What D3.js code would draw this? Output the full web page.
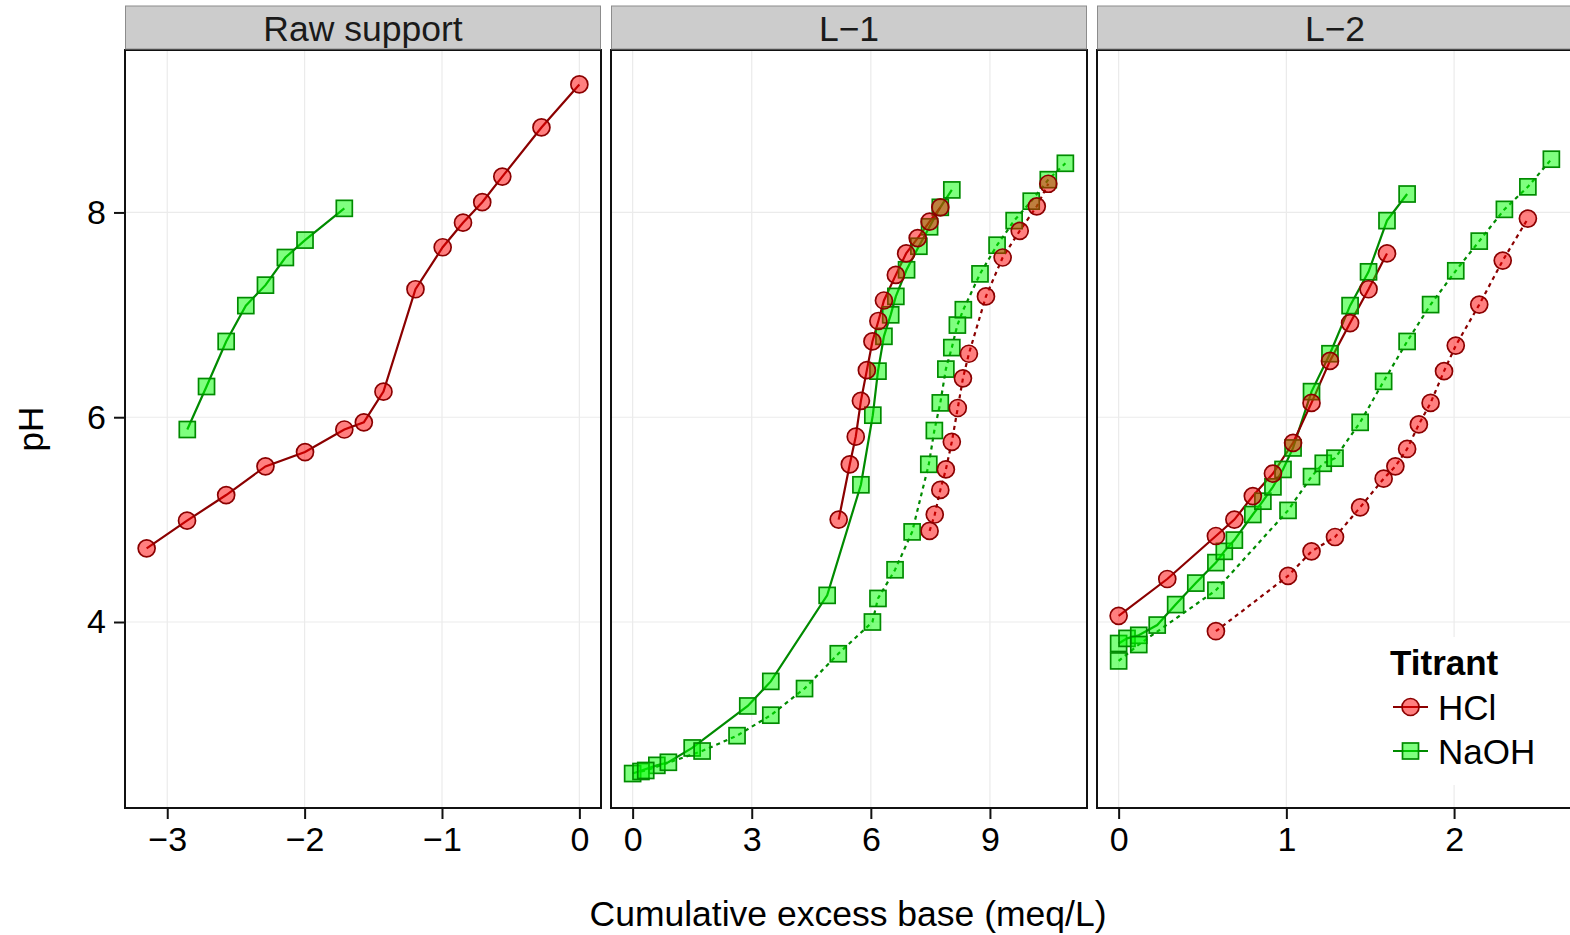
<!DOCTYPE html>
<html>
<head>
<meta charset="utf-8">
<script src="https://cdn.jsdelivr.net/npm/d3@7"></script>
<style>
  body { margin: 0; background: #fff; }
  svg { display: block; font-family: "Liberation Sans", Arial, sans-serif; }
</style>
</head>
<body>
<svg id="chart" width="1570" height="935"></svg>
<script>
// panels (facets) and their x ticks
var panelNames = ["Raw support", "L\u22121", "L\u22122"];
var panelTicks = [[-3, -2, -1, 0], [0, 3, 6, 9], [0, 1, 2]];
var yTicks = [4, 6, 8];
var titrants = ["HCl", "NaOH"];

// [cumulative excess base, pH]
var rawHCl = [[-3.15, 4.72], [-2.856, 4.99], [-2.571, 5.24], [-2.285, 5.52], [-1.997, 5.66],
  [-1.711, 5.88], [-1.569, 5.95], [-1.426, 6.25], [-1.193, 7.25], [-0.995, 7.66], [-0.847, 7.90],
  [-0.707, 8.10], [-0.561, 8.35], [-0.276, 8.83], [0, 9.25]];
var rawNaOH = [[-2.854, 5.88], [-2.714, 6.30], [-2.571, 6.74], [-2.428, 7.09], [-2.285, 7.29],
  [-2.140, 7.56], [-1.997, 7.73], [-1.711, 8.04]];

var l1HCl1 = [[5.19, 5.00], [5.47, 5.54], [5.62, 5.81], [5.75, 6.16], [5.90, 6.46], [6.04, 6.74],
  [6.19, 6.94], [6.33, 7.14], [6.63, 7.39], [6.89, 7.60], [7.18, 7.75], [7.48, 7.91], [7.75, 8.05]];
var l1HCl2 = [[7.48, 4.89], [7.61, 5.05], [7.75, 5.29], [7.89, 5.49], [8.04, 5.76], [8.19, 6.09],
  [8.32, 6.38], [8.47, 6.62], [8.90, 7.18], [9.32, 7.56], [9.75, 7.82], [10.18, 8.06], [10.47, 8.28]];
var l1NaOH1 = [[0, 2.52], [0.61, 2.60], [0.90, 2.63], [1.50, 2.77], [2.90, 3.18], [3.48, 3.42],
  [4.90, 4.26], [5.75, 5.34], [6.05, 6.02], [6.18, 6.45], [6.33, 6.79], [6.50, 7.00], [6.63, 7.18],
  [6.90, 7.44], [7.21, 7.67], [7.48, 7.86], [7.75, 8.05], [8.04, 8.22]];
var l1NaOH2 = [[0.21, 2.54], [0.33, 2.55], [1.75, 2.74], [2.63, 2.89], [3.48, 3.09], [4.33, 3.35],
  [5.18, 3.69], [6.04, 4.00], [6.18, 4.23], [6.61, 4.51], [7.04, 4.88], [7.46, 5.54], [7.60, 5.87],
  [7.75, 6.14], [7.89, 6.47], [8.04, 6.68], [8.18, 6.90], [8.33, 7.05], [8.75, 7.40], [9.18, 7.68],
  [9.61, 7.92], [10.04, 8.11], [10.47, 8.32], [10.9, 8.48]];

var l2HCl1 = [[0, 4.06], [0.29, 4.42], [0.58, 4.84], [0.69, 5.00], [0.80, 5.23], [0.92, 5.45],
  [1.04, 5.75], [1.15, 6.14], [1.26, 6.55], [1.38, 6.92], [1.49, 7.25], [1.60, 7.60]];
var l2HCl2 = [[0.58, 3.91], [1.01, 4.45], [1.15, 4.69], [1.29, 4.83], [1.44, 5.12], [1.58, 5.40],
  [1.65, 5.52], [1.72, 5.69], [1.79, 5.93], [1.86, 6.14], [1.94, 6.45], [2.01, 6.70], [2.15, 7.10],
  [2.29, 7.53], [2.44, 7.94]];
var l2NaOH1 = [[0, 3.79], [0.05, 3.84], [0.12, 3.87], [0.23, 3.97], [0.34, 4.17], [0.46, 4.38],
  [0.58, 4.58], [0.63, 4.69], [0.69, 4.80], [0.80, 5.05], [0.86, 5.18], [0.92, 5.32], [0.98, 5.49],
  [1.04, 5.70], [1.15, 6.25], [1.26, 6.62], [1.38, 7.09], [1.49, 7.42], [1.60, 7.92], [1.72, 8.18]];
var l2NaOH2 = [[0, 3.62], [0.12, 3.78], [0.58, 4.31], [1.01, 5.09], [1.15, 5.42], [1.22, 5.55],
  [1.29, 5.60], [1.44, 5.95], [1.58, 6.35], [1.72, 6.74], [1.86, 7.10], [2.01, 7.43], [2.15, 7.72],
  [2.30, 8.03], [2.44, 8.25], [2.58, 8.52]];

// series: panel, titrant, replicate (1 = solid, 2 = dotted)
var series = [
  {panel: 0, titrant: "NaOH", rep: 1, values: rawNaOH},
  {panel: 0, titrant: "HCl", rep: 1, values: rawHCl},
  {panel: 1, titrant: "NaOH", rep: 1, values: l1NaOH1},
  {panel: 1, titrant: "NaOH", rep: 2, values: l1NaOH2},
  {panel: 1, titrant: "HCl", rep: 1, values: l1HCl1},
  {panel: 1, titrant: "HCl", rep: 2, values: l1HCl2},
  {panel: 2, titrant: "NaOH", rep: 1, values: l2NaOH1},
  {panel: 2, titrant: "NaOH", rep: 2, values: l2NaOH2},
  {panel: 2, titrant: "HCl", rep: 1, values: l2HCl1},
  {panel: 2, titrant: "HCl", rep: 2, values: l2HCl2}
];

var lineCol = {HCl: "#8B0000", NaOH: "#008B00"};
var fillCol = {HCl: "#FF0000", NaOH: "#00FF00"};

(function() {
  var svg = d3.select("#chart");
  var panelLeft = [125, 611, 1097];
  var panelW = 476;
  var plotTop = 50, plotBottom = 808, stripTop = 6;
  var fs = 34;
  var fmt = d3.format("d");
  var r = 8.5, sq = 16;

  // ggplot style 5% expansion
  function expand(ext) {
    var d = (ext[1] - ext[0]) * 0.05;
    return [ext[0] - d, ext[1] + d];
  }

  var allY = [];
  series.forEach(function(s) { s.values.forEach(function(v) { allY.push(v[1]); }); });
  var y = d3.scaleLinear().domain(expand(d3.extent(allY))).range([plotBottom, plotTop]);

  var defs = svg.append("defs");

  panelNames.forEach(function(name, i) {
    var xs = [];
    series.filter(function(s) { return s.panel === i; })
      .forEach(function(s) { s.values.forEach(function(v) { xs.push(v[0]); }); });
    var x = d3.scaleLinear().domain(expand(d3.extent(xs))).range([0, panelW]);

    var g = svg.append("g").attr("transform", "translate(" + panelLeft[i] + ",0)");

    defs.append("clipPath").attr("id", "clip" + i)
      .append("rect").attr("x", 0).attr("y", plotTop).attr("width", panelW).attr("height", plotBottom - plotTop);

    // grid
    g.selectAll(".gx").data(panelTicks[i]).enter().append("line")
      .attr("x1", function(d) { return x(d); }).attr("x2", function(d) { return x(d); })
      .attr("y1", plotTop).attr("y2", plotBottom)
      .attr("stroke", "#EBEBEB").attr("stroke-width", 1.2);
    g.selectAll(".gy").data(yTicks).enter().append("line")
      .attr("x1", 0).attr("x2", panelW)
      .attr("y1", function(d) { return y(d); }).attr("y2", function(d) { return y(d); })
      .attr("stroke", "#EBEBEB").attr("stroke-width", 1.2);

    var plot = g.append("g").attr("clip-path", "url(#clip" + i + ")");
    var line = d3.line().x(function(d) { return x(d[0]); }).y(function(d) { return y(d[1]); });
    var mine = series.filter(function(s) { return s.panel === i; });

    mine.forEach(function(s) {
      plot.append("path")
        .datum(s.values)
        .attr("d", line)
        .attr("fill", "none")
        .attr("stroke", lineCol[s.titrant])
        .attr("stroke-width", 2.2)
        .attr("stroke-dasharray", s.rep === 2 ? "4,4" : null);
    });

    mine.forEach(function(s) {
      if (s.titrant === "HCl") {
        plot.selectAll(null).data(s.values).enter().append("circle")
          .attr("cx", function(d) { return x(d[0]); })
          .attr("cy", function(d) { return y(d[1]); })
          .attr("r", r)
          .attr("fill", fillCol.HCl).attr("fill-opacity", 0.5)
          .attr("stroke", lineCol.HCl).attr("stroke-width", 1.7);
      } else {
        plot.selectAll(null).data(s.values).enter().append("rect")
          .attr("x", function(d) { return x(d[0]) - sq / 2; })
          .attr("y", function(d) { return y(d[1]) - sq / 2; })
          .attr("width", sq).attr("height", sq)
          .attr("fill", fillCol.NaOH).attr("fill-opacity", 0.5)
          .attr("stroke", lineCol.NaOH).attr("stroke-width", 1.7);
      }
    });

    // border
    g.append("rect").attr("x", 0).attr("y", plotTop).attr("width", panelW).attr("height", plotBottom - plotTop)
      .attr("fill", "none").attr("stroke", "#111").attr("stroke-width", 2);

    // strip
    g.append("rect").attr("x", 0.5).attr("y", stripTop).attr("width", panelW - 1).attr("height", plotTop - stripTop - 1)
      .attr("fill", "#CCCCCC").attr("stroke", "#8C8C8C").attr("stroke-width", 1);
    g.append("text").attr("x", panelW / 2).attr("y", 41)
      .attr("text-anchor", "middle").attr("font-size", 35.5).attr("fill", "#1a1a1a")
      .text(name);

    // x axis
    var ax = g.append("g").attr("transform", "translate(0," + (plotBottom + 1) + ")")
      .call(d3.axisBottom(x).tickValues(panelTicks[i]).tickFormat(fmt).tickSize(10).tickPadding(8));
    ax.select(".domain").remove();
    ax.selectAll("line").attr("stroke", "#111").attr("stroke-width", 2);
    ax.selectAll("text").attr("font-size", fs).attr("font-family", "Liberation Sans, Arial, sans-serif").attr("fill", "#000");

    if (i === 0) {
      var ay = g.append("g").attr("transform", "translate(-1,0)")
        .call(d3.axisLeft(y).tickValues(yTicks).tickFormat(fmt).tickSize(10).tickPadding(8));
      ay.select(".domain").remove();
      ay.selectAll("line").attr("stroke", "#111").attr("stroke-width", 2);
      ay.selectAll("text").attr("font-size", fs).attr("font-family", "Liberation Sans, Arial, sans-serif").attr("fill", "#000");
    }
  });

  // axis titles
  svg.append("text").attr("x", 848).attr("y", 926).attr("text-anchor", "middle")
    .attr("font-size", 35.5).text("Cumulative excess base (meq/L)");
  svg.append("text").attr("transform", "translate(43," + ((plotTop + plotBottom) / 2) + ") rotate(-90)")
    .attr("text-anchor", "middle").attr("font-size", 35).text("pH");

  // legend inside the last panel
  var lg = svg.append("g");
  lg.append("rect").attr("x", 1377).attr("y", 637).attr("width", 193).attr("height", 148).attr("fill", "#fff");
  lg.append("text").attr("x", 1390).attr("y", 675).attr("font-size", 35).attr("font-weight", "bold").text("Titrant");
  titrants.forEach(function(t, k) {
    var cy = 707 + k * 44;
    lg.append("line").attr("x1", 1393).attr("x2", 1428).attr("y1", cy).attr("y2", cy)
      .attr("stroke", lineCol[t]).attr("stroke-width", 2.2);
    if (t === "HCl") {
      lg.append("circle").attr("cx", 1410.5).attr("cy", cy).attr("r", r)
        .attr("fill", fillCol[t]).attr("fill-opacity", 0.5).attr("stroke", lineCol[t]).attr("stroke-width", 1.7);
    } else {
      lg.append("rect").attr("x", 1410.5 - sq / 2).attr("y", cy - sq / 2).attr("width", sq).attr("height", sq)
        .attr("fill", fillCol[t]).attr("fill-opacity", 0.5).attr("stroke", lineCol[t]).attr("stroke-width", 1.7);
    }
    lg.append("text").attr("x", 1438).attr("y", cy + 13).attr("font-size", 35).text(t);
  });
})();
</script>
</body>
</html>
